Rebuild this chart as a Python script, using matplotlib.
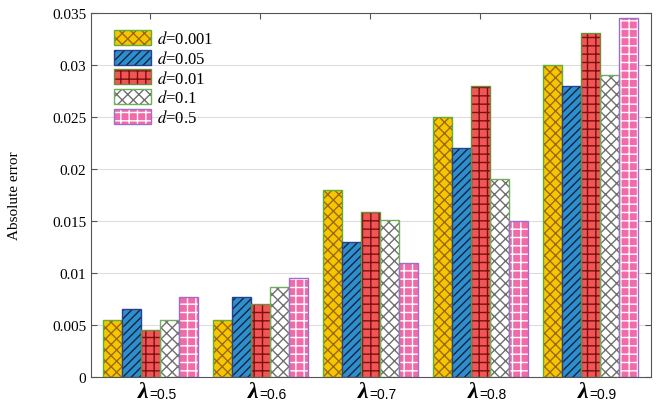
import matplotlib
matplotlib.use('Agg')
import matplotlib.pyplot as plt
from matplotlib.patches import Patch
from matplotlib.legend_handler import HandlerTuple
from matplotlib.transforms import blended_transform_factory
import numpy as np

plt.rcParams['font.family'] = ['Liberation Serif', 'DejaVu Serif']
plt.rcParams['mathtext.fontset'] = 'stix'
plt.rcParams['hatch.linewidth'] = 1.0

# data
lambdas = ['0.5', '0.6', '0.7', '0.8', '0.9']
d_labels = ['0.001', '0.05', '0.01', '0.1', '0.5']
err_d0001 = [0.0055, 0.0055, 0.0180, 0.0250, 0.0300]
err_d005 = [0.0065, 0.0077, 0.0130, 0.0220, 0.0280]
err_d001 = [0.0045, 0.0070, 0.0159, 0.0280, 0.0331]
err_d01 = [0.0055, 0.0087, 0.0151, 0.0190, 0.0290]
err_d05 = [0.0077, 0.0095, 0.0110, 0.0150, 0.0345]
series = [err_d0001, err_d005, err_d001, err_d01, err_d05]

# fill, hatch colour, hatch, outline
styles = [
    ('#F7C600', '#9A6A10', 'xxx', '#5FAF3A'),
    ('#2E8FCF', '#15243F', '////', '#2A3F8F'),
    ('#F25555', '#7A1010', '++', '#6B8F3A'),
    ('#FFFFFF', '#707070', 'xxx', '#6FAF5A'),
    ('#F26AAA', '#FFFFFF', '++', '#9A70C8'),
]

fig = plt.figure(figsize=(6.6, 4.1), dpi=100)
ax = fig.add_axes([0.138, 0.078, 0.848, 0.888])

x = np.arange(1, len(lambdas) + 1)
w = 0.173
handles = []
for i, (vals, (fc, hc, hatch, ec)) in enumerate(zip(series, styles)):
    pos = x + (i - 2) * w
    ax.bar(pos, vals, w, color=fc, edgecolor=hc, hatch=hatch, linewidth=0, zorder=2)
    ax.bar(pos, vals, w, fill=False, edgecolor=ec, linewidth=1.0, zorder=3)
    handles.append((Patch(facecolor=fc, edgecolor=hc, hatch=hatch, linewidth=0),
                    Patch(fill=False, edgecolor=ec, linewidth=1.0)))

ax.set_xlim(0.46, 5.55)
ax.set_ylim(0, 0.035)
ax.set_yticks(np.arange(0, 0.0351, 0.005))
ax.set_yticklabels(['0', '0.005', '0.01', '0.015', '0.02', '0.025', '0.03', '0.035'])
ax.set_xticks(x)
ax.set_xticklabels([])
ax.tick_params(direction='in', top=True, right=True, labelsize=11, length=4, color='#555555')
ax.yaxis.grid(True, color='#DDDDDD', linewidth=0.8, zorder=0)
ax.set_axisbelow(True)
for s in ax.spines.values():
    s.set_color('#555555')
ax.set_ylabel('Absolute error', fontsize=11)
ax.yaxis.set_label_coords(-0.125, 0.5)

tr = blended_transform_factory(ax.transData, ax.transAxes)
for xi, lam in zip(x, lambdas):
    ax.text(xi - 0.02, -0.012, 'λ', transform=tr, ha='right', va='top',
            fontsize=17, fontweight='bold', fontstyle='italic')
    ax.text(xi - 0.01, -0.027, '=' + lam, transform=tr, ha='left', va='top',
            fontsize=10, family=['Liberation Sans', 'DejaVu Sans'])

ax.legend(handles, ['$d$=' + d for d in d_labels],
          handler_map={tuple: HandlerTuple(ndivide=1)},
          loc='upper left', bbox_to_anchor=(0.02, 0.985), frameon=False,
          fontsize=12, handlelength=2.2, handleheight=1.0,
          labelspacing=0.15, handletextpad=0.4, borderaxespad=0.3)

fig.savefig('out.png', dpi=100)
